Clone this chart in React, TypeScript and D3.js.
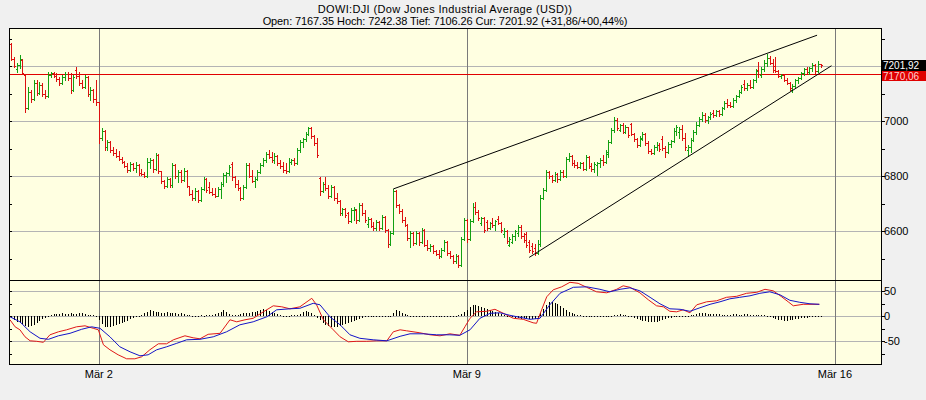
import React from "react";
import * as d3 from "d3";

// ---------- text ----------
const titleLine1 = "DOWI:DJI (Dow Jones Industrial Average (USD))";
const titleLine2 = "Open: 7167.35 Hoch: 7242.38 Tief: 7106.26 Cur: 7201.92 (+31,86/+00,44%)";

// ---------- time axis ----------
const barsPerDay = 26;
const dayTickLabels = ["Mär 2", "Mär 9", "Mär 16"];
const dayTickSlots = [52, 182, 312];

// ---------- price axis ----------
const priceGrid = [6600, 6800, 7000, 7200];
const priceLabels = [6600, 6800, 7000];
const priceMinor = [6500, 6700, 6900, 7100, 7300];
const macdGrid = [-50, 0, 50];
const macdMinor = [-75, -25, 25];
const lastPrice = 7201.92;
const prevClose = 7170.06;
const lastPriceLabel = "7201,92";
const prevCloseLabel = "7170,06";

// ---------- OHLC data, 15-min bars per trading day: [open, high, low, close] ----------
type OHLC = [number, number, number, number];
const feb26: OHLC[] = [
  [7280, 7285, 7222, 7226], [7226, 7232, 7196, 7200], [7190, 7211, 7178, 7204], [7204, 7240, 7193, 7226], [7222, 7226, 7171, 7175],
];
const feb27: OHLC[] = [
  [7167, 7170, 7033, 7047], [7047, 7124, 7044, 7105], [7105, 7113, 7069, 7080], [7080, 7149, 7076, 7138], [7138, 7149, 7095, 7102],
  [7102, 7142, 7098, 7131], [7131, 7138, 7091, 7098], [7098, 7113, 7084, 7091], [7091, 7178, 7087, 7167], [7167, 7180, 7160, 7175],
  [7175, 7178, 7160, 7164], [7164, 7175, 7146, 7153], [7153, 7160, 7131, 7138], [7138, 7167, 7135, 7160], [7160, 7178, 7149, 7171],
  [7171, 7178, 7149, 7156], [7156, 7175, 7102, 7113], [7113, 7167, 7109, 7160], [7185, 7196, 7156, 7164], [7164, 7178, 7131, 7138],
  [7138, 7149, 7120, 7124], [7124, 7167, 7120, 7160], [7160, 7164, 7091, 7098], [7098, 7124, 7076, 7113], [7113, 7116, 7069, 7080],
  [7080, 7149, 7058, 7069],
];
const mar2: OHLC[] = [
  [7069, 7069, 6920, 6938], [6938, 6975, 6931, 6965], [6965, 6967, 6895, 6905], [6905, 6931, 6895, 6924], [6924, 6927, 6887, 6895],
  [6895, 6905, 6876, 6884], [6884, 6898, 6869, 6873], [6873, 6891, 6858, 6862], [6862, 6869, 6847, 6851], [6851, 6855, 6833, 6836],
  [6836, 6847, 6815, 6822], [6822, 6851, 6818, 6844], [6844, 6847, 6822, 6829], [6829, 6851, 6815, 6840], [6840, 6844, 6804, 6811],
  [6811, 6825, 6804, 6807], [6807, 6815, 6796, 6800], [6800, 6865, 6796, 6851], [6851, 6865, 6829, 6858], [6858, 6862, 6815, 6825],
  [6825, 6884, 6822, 6876], [6876, 6880, 6811, 6818], [6818, 6818, 6775, 6782], [6782, 6785, 6756, 6764], [6764, 6796, 6760, 6789],
  [6789, 6792, 6760, 6767],
];
const mar3: OHLC[] = [
  [6767, 6847, 6760, 6840], [6840, 6844, 6793, 6800], [6800, 6822, 6778, 6815], [6815, 6822, 6778, 6785], [6785, 6829, 6782, 6818],
  [6818, 6822, 6760, 6764], [6764, 6764, 6731, 6735], [6735, 6749, 6713, 6720], [6720, 6756, 6713, 6745], [6745, 6749, 6705, 6713],
  [6713, 6760, 6709, 6753], [6753, 6796, 6749, 6789], [6789, 6793, 6742, 6749], [6760, 6778, 6738, 6742], [6742, 6756, 6731, 6735],
  [6735, 6756, 6724, 6729], [6729, 6760, 6727, 6753], [6753, 6778, 6720, 6771], [6771, 6811, 6765, 6804], [6804, 6815, 6778, 6811],
  [6811, 6840, 6804, 6833], [6845, 6851, 6785, 6796], [6796, 6800, 6760, 6771], [6771, 6785, 6749, 6756], [6756, 6760, 6713, 6720],
  [6720, 6767, 6716, 6760],
];
const mar4: OHLC[] = [
  [6760, 6847, 6756, 6840], [6840, 6847, 6796, 6800], [6800, 6822, 6778, 6782], [6782, 6796, 6760, 6789], [6789, 6822, 6785, 6815],
  [6815, 6847, 6811, 6840], [6840, 6865, 6836, 6858], [6858, 6887, 6851, 6880], [6880, 6895, 6865, 6869], [6869, 6887, 6851, 6858],
  [6858, 6884, 6847, 6873], [6873, 6876, 6840, 6847], [6847, 6858, 6829, 6836], [6836, 6851, 6815, 6822], [6822, 6847, 6811, 6818],
  [6818, 6865, 6815, 6851], [6851, 6862, 6844, 6858], [6858, 6865, 6840, 6848], [6848, 6902, 6844, 6895], [6895, 6931, 6887, 6924],
  [6924, 6938, 6905, 6935], [6935, 6960, 6927, 6953], [6953, 6978, 6949, 6975], [6975, 6980, 6938, 6945], [6945, 6950, 6913, 6920],
  [6920, 6938, 6869, 6876],
];
const mar5: OHLC[] = [
  [6793, 6796, 6731, 6745], [6745, 6778, 6742, 6771], [6771, 6796, 6749, 6756], [6756, 6767, 6720, 6727], [6727, 6767, 6724, 6760],
  [6760, 6764, 6713, 6720], [6720, 6738, 6702, 6709], [6709, 6713, 6658, 6665], [6665, 6684, 6658, 6680], [6680, 6684, 6651, 6658],
  [6665, 6670, 6629, 6636], [6636, 6684, 6633, 6676], [6676, 6687, 6640, 6680], [6675, 6680, 6629, 6640], [6640, 6702, 6636, 6695],
  [6695, 6702, 6658, 6665], [6665, 6676, 6633, 6640], [6625, 6651, 6615, 6645], [6645, 6647, 6615, 6620], [6620, 6633, 6604, 6611],
  [6611, 6640, 6604, 6633], [6633, 6636, 6604, 6611], [6611, 6658, 6607, 6651], [6651, 6655, 6596, 6604], [6604, 6607, 6542, 6553],
  [6553, 6600, 6549, 6593],
];
const mar6: OHLC[] = [
  [6593, 6753, 6589, 6745], [6745, 6749, 6687, 6695], [6695, 6698, 6665, 6673], [6673, 6680, 6633, 6640], [6640, 6651, 6618, 6622],
  [6622, 6625, 6567, 6575], [6575, 6600, 6542, 6593], [6593, 6596, 6549, 6556], [6556, 6600, 6553, 6593], [6593, 6596, 6549, 6560],
  [6560, 6611, 6556, 6604], [6604, 6607, 6545, 6549], [6549, 6567, 6531, 6538], [6538, 6553, 6527, 6545], [6545, 6549, 6520, 6527],
  [6527, 6531, 6513, 6516], [6516, 6531, 6502, 6509], [6509, 6538, 6505, 6531], [6531, 6567, 6527, 6560], [6560, 6563, 6513, 6520],
  [6520, 6527, 6502, 6509], [6509, 6513, 6484, 6491], [6491, 6516, 6484, 6509], [6509, 6513, 6469, 6476], [6476, 6578, 6473, 6571],
  [6571, 6647, 6567, 6640],
];
const mar9: OHLC[] = [
  [6640, 6644, 6560, 6571], [6571, 6644, 6567, 6636], [6636, 6702, 6633, 6687], [6687, 6705, 6662, 6669], [6669, 6676, 6640, 6647],
  [6630, 6651, 6622, 6647], [6647, 6651, 6596, 6604], [6633, 6640, 6604, 6611], [6611, 6633, 6607, 6629], [6629, 6647, 6615, 6622],
  [6622, 6640, 6604, 6636], [6644, 6655, 6625, 6629], [6629, 6633, 6596, 6604], [6589, 6611, 6578, 6600], [6600, 6604, 6556, 6563],
  [6549, 6578, 6545, 6571], [6560, 6589, 6556, 6582], [6582, 6604, 6567, 6600], [6593, 6622, 6582, 6615], [6615, 6622, 6575, 6582],
  [6582, 6593, 6560, 6567], [6590, 6596, 6542, 6549], [6560, 6567, 6524, 6531], [6545, 6556, 6520, 6527], [6540, 6553, 6513, 6520],
  [6520, 6567, 6516, 6553],
];
const mar10: OHLC[] = [
  [6553, 6731, 6545, 6720], [6720, 6756, 6716, 6749], [6749, 6822, 6745, 6815], [6815, 6818, 6793, 6800], [6800, 6804, 6778, 6785],
  [6785, 6815, 6782, 6807], [6807, 6811, 6778, 6789], [6789, 6822, 6785, 6815], [6815, 6822, 6796, 6800], [6800, 6869, 6796, 6862],
  [6862, 6884, 6855, 6873], [6873, 6876, 6840, 6847], [6847, 6858, 6833, 6840], [6840, 6851, 6829, 6833], [6833, 6851, 6829, 6847],
  [6847, 6851, 6822, 6825], [6825, 6876, 6822, 6869], [6869, 6873, 6829, 6836], [6836, 6847, 6818, 6825], [6825, 6851, 6815, 6844],
  [6840, 6851, 6804, 6847], [6847, 6865, 6833, 6858], [6858, 6876, 6840, 6851], [6851, 6895, 6848, 6887], [6880, 6931, 6869, 6924],
  [6924, 6975, 6920, 6967],
];
const mar11: OHLC[] = [
  [6967, 7015, 6960, 7004], [7004, 7011, 6967, 6975], [6967, 6989, 6964, 6985], [6985, 6993, 6956, 6960], [6960, 6985, 6956, 6978],
  [6978, 6980, 6942, 6949], [6989, 6993, 6949, 6953], [6953, 6956, 6927, 6935], [6935, 6938, 6905, 6913], [6913, 6945, 6909, 6938],
  [6935, 6960, 6931, 6953], [6953, 6956, 6913, 6920], [6920, 6927, 6884, 6891], [6891, 6898, 6880, 6884], [6884, 6913, 6880, 6905],
  [6905, 6924, 6895, 6913], [6913, 6920, 6891, 6898], [6935, 6945, 6895, 6902], [6902, 6909, 6869, 6887], [6887, 6924, 6884, 6916],
  [6916, 6931, 6905, 6927], [6927, 6975, 6924, 6964], [6964, 6985, 6949, 6978], [6960, 6978, 6938, 6971], [6971, 6985, 6931, 6938],
  [6938, 6956, 6895, 6905],
];
const mar12: OHLC[] = [
  [6895, 6913, 6873, 6905], [6905, 6938, 6887, 6931], [6931, 6967, 6927, 6960], [6960, 6996, 6953, 6985], [6985, 7015, 6982, 7007],
  [7007, 7033, 7000, 7022], [7022, 7029, 6996, 7004], [7004, 7020, 6993, 7015], [7015, 7033, 7007, 7025], [7030, 7040, 7015, 7022],
  [7022, 7040, 7018, 7036], [7036, 7040, 7018, 7025], [7025, 7051, 7022, 7047], [7047, 7073, 7044, 7065], [7065, 7080, 7051, 7058],
  [7058, 7069, 7051, 7055], [7055, 7084, 7051, 7076], [7076, 7095, 7069, 7091], [7091, 7113, 7087, 7105], [7105, 7131, 7102, 7124],
  [7135, 7149, 7113, 7120], [7120, 7138, 7113, 7131], [7131, 7149, 7120, 7124], [7124, 7153, 7120, 7149], [7149, 7189, 7142, 7182],
  [7185, 7215, 7160, 7170.06],
];
const mar13: OHLC[] = [
  [7167.35, 7196, 7160, 7189], [7189, 7222, 7182, 7211], [7211, 7242.38, 7200, 7229], [7229, 7236, 7207, 7211], [7211, 7225, 7178, 7185],
  [7200, 7233, 7178, 7182], [7182, 7185, 7160, 7164], [7164, 7171, 7156, 7167], [7167, 7171, 7145, 7149], [7149, 7156, 7135, 7138],
  [7138, 7142, 7113, 7120], [7113, 7135, 7106.26, 7127], [7127, 7153, 7124, 7149], [7149, 7160, 7138, 7156], [7156, 7178, 7153, 7175],
  [7175, 7193, 7167, 7189], [7189, 7196, 7175, 7178], [7178, 7196, 7171, 7193], [7193, 7211, 7182, 7204], [7204, 7207, 7175, 7182],
  [7182, 7218, 7178, 7206], [7206, 7207, 7198, 7201.92],
];
const dayBars = [feb26, feb27, mar2, mar3, mar4, mar5, mar6, mar9, mar10, mar11, mar12, mar13];
const dayFirstSlot = [21, 0, 0, 0, 0, 0, 0, 0, 0, 0, 0, 0];

// ---------- MACD histogram per bar ----------
const histFeb26 = [-4, -8, -12, -14, -16];
const histFeb27 = [-19, -21, -20, -17, -14, -10, -6, -3, 1, 3, 4, 5, 5, 6, 5, 5, 6, 5, 4, 6, 7, 5, 3, 2, 2, 1];
const histMar2 = [-8, -16, -21, -22, -21, -20, -18, -16, -14, -11, -9, -6, -3, -1, 0, 3, 6, 9, 12, 10, 8, 9, 7, 6, 8, 6];
const histMar3 = [7, 6, 5, 6, 4, 3, 2, 1, 1, 1, 2, 1, 2, 2, 3, 4, 6, 9, 12, 8, 5, 3, 2, 3, 4, 6];
const histMar4 = [6, 7, 8, 9, 10, 12, 14, 12, 10, 8, 6, 4, 2, 1, 1, 1, 2, 2, 3, 5, 8, 10, 9, 6, 2, -3];
const histMar5 = [-8, -13, -17, -20, -22, -22, -21, -20, -18, -16, -14, -12, -10, -8, -6, -4, -2, -1, 0, 0, 1, 1, 0, 0, -1, 0];
const histMar6 = [6, 12, 10, 7, 4, 2, 1, 0, 0, -1, 0, 1, 0, -1, 0, 0, 1, 0, -1, 0, 0, 1, 0, 2, 4, 8];
const histMar9 = [12, 18, 22, 23, 21, 19, 17, 15, 13, 11, 9, 7, 5, 3, 1, -1, -2, -3, -4, -5, -4, -5, -6, -6, -5, -4];
const histMar10 = [6, 14, 22, 28, 29, 27, 24, 20, 16, 12, 9, 7, 5, 3, 2, 1, 0, -1, -1, -1, 0, 1, 1, 1, 0, 1];
const histMar11 = [2, 3, 4, 3, 2, 1, -1, -3, -5, -7, -9, -10, -11, -12, -12, -11, -10, -8, -6, -4, -3, -2, -1, 0, 0, 1];
const histMar12 = [1, 2, 3, 5, 6, 7, 6, 5, 5, 4, 4, 4, 3, 3, 3, 3, 4, 4, 3, 3, 4, 4, 3, 3, 2, 2];
const histMar13 = [3, 2, 1, -1, -3, -5, -7, -8, -9, -9, -8, -7, -6, -5, -4, -3, -3, -2, -2, -1, -1, -1];
const dayHist = [histFeb26, histFeb27, histMar2, histMar3, histMar4, histMar5, histMar6, histMar9, histMar10, histMar11, histMar12, histMar13];

// ---------- MACD (red) and signal (blue) lines: [bar slot, value] ----------
const macdLine: [number, number][] = [
  [20.6, -7], [22.4, -21], [24.1, -27], [25.9, -41], [27.7, -49], [30, -50], [32.4, -52], [34.7, -37], [37.7, -31], [40.6, -27],
  [44.1, -21], [47.1, -19], [50, -24], [51.8, -27], [53.6, -57], [55.9, -67], [58.8, -77], [61.8, -85], [64.7, -85], [67.1, -81],
  [70, -67], [73, -55], [75.9, -55], [78.3, -47], [82.4, -39], [85.3, -43], [87.7, -45], [90.6, -36], [94.8, -34], [98.3, -7],
  [100.7, -11], [103.6, -7], [106.5, -4], [110.1, 9], [113.6, 21], [116.6, 19], [119.5, 15], [123, 19], [127.2, 36], [128.9, 23],
  [131.3, -7], [134.8, -27], [137.2, -41], [140.1, -51], [143.1, -50], [146.6, -50], [150.1, -49], [153.7, -49], [156, -31], [158.4, -27],
  [160.7, -29], [165.4, -33], [169, -37], [172.5, -39], [176, -35], [179.5, -38], [181.3, -21], [183.1, -4], [185.4, 9], [189, 10],
  [191.9, 14], [194.9, 6], [198.4, -4], [201.9, -6], [205.4, -13], [206.6, -14], [208.4, 13], [210.2, 39], [212.5, 53], [215.5, 59],
  [218.4, 68], [221.3, 66], [224.3, 58], [227.8, 49], [231.4, 47], [234.9, 54], [237.2, 61], [239.6, 58], [243.1, 47], [246.1, 33],
  [249, 21], [251.4, 19], [253.7, 10], [256.1, 9], [258.4, 13], [260.8, 7], [263.2, 23], [266.7, 29], [270.2, 31], [273.7, 38],
  [277.3, 40], [280.8, 46], [284.4, 48], [287.3, 54], [290.2, 51], [293.2, 39], [295.5, 29], [297.3, 21], [300.8, 24], [306.5, 24],
];
const signalLine: [number, number][] = [
  [20.6, -1], [24.1, -11], [27.7, -31], [31.2, -44], [34.2, -46], [37.7, -39], [41.8, -34], [45.9, -26], [49.4, -21], [52.4, -24],
  [55.9, -41], [59.4, -61], [63, -71], [66.5, -79], [69.4, -77], [72.4, -67], [75.9, -61], [79.5, -54], [83, -47], [87.7, -46],
  [92.4, -41], [97.1, -31], [101.8, -17], [106.5, -11], [111.3, -1], [114.8, 13], [119.5, 15], [123, 16], [127.7, 26], [130.1, 23],
  [133.6, -1], [137.2, -17], [140.7, -37], [144.2, -44], [148.9, -47], [153.7, -49], [158.4, -40], [161.9, -35], [166.6, -35], [171.3, -37],
  [176, -37], [179.5, -38], [183.1, -27], [186.6, -4], [190.2, 6], [193.7, 7], [197.2, 2], [200.7, -2], [204.3, -6], [207.8, -4],
  [211.3, 23], [214.9, 46], [219.6, 58], [224.3, 59], [229, 54], [232.5, 49], [236.1, 54], [239.6, 57], [243.1, 51], [246.7, 38],
  [250.2, 25], [253.7, 15], [257.3, 14], [260.8, 10], [264.3, 17], [267.9, 24], [271.4, 29], [274.9, 35], [278.4, 38], [282, 41],
  [285.5, 46], [289, 49], [292.6, 43], [296.1, 32], [299.6, 28], [303.2, 25], [306.5, 24],
];

// ---------- trend lines: [bar slot, price] ----------
const upperTrend: [number, number][] = [[156, 6753], [305.7, 7312]];
const lowerTrend: [number, number][] = [[204, 6504], [310.8, 7201]];

// ---------- layout ----------
const W = 926, H = 400;
const PL = 9, PR = 881, PT = 28, PMID = 280, PB = 364;
const FONT = "'Liberation Sans', Arial, sans-serif";
const GREEN = "#12a012";
const RED = "#dd1010";

export default function App() {
  const slotPerPx = 73.6 / barsPerDay;
  const x = d3.scaleLinear().domain([(PL + 48.3) / slotPerPx, (PR + 48.3) / slotPerPx]).range([PL, PR]);
  const yP = d3.scaleLinear().domain([6421.9, 7338.2]).range([PMID, PT]);
  const yM = d3.scaleLinear().domain([-95.4, 72.6]).range([PB, PMID]);

  const bars: { g: number; d: OHLC }[] = [];
  const hist: { g: number; v: number }[] = [];
  dayBars.forEach((arr, di) => arr.forEach((d, k) => bars.push({ g: di * barsPerDay + dayFirstSlot[di] + k, d })));
  dayHist.forEach((arr, di) => arr.forEach((v, k) => hist.push({ g: di * barsPerDay + dayFirstSlot[di] + k, v })));

  const macdPath = d3.line<[number, number]>().x((d) => x(d[0])).y((d) => yM(d[1]))(macdLine) || "";
  const sigPath = d3.line<[number, number]>().x((d) => x(d[0])).y((d) => yM(d[1]))(signalLine) || "";
  const trendPath = d3.line<[number, number]>().x((d) => x(d[0])).y((d) => yP(d[1]));

  const hy = (v: number) => Math.round(v) + 0.5;
  const y0 = Math.round(yM(0));
  const yLast = Math.round(yP(lastPrice));

  return (
    <svg width={W} height={H} style={{ position: "absolute", left: 0, top: 0, background: "#f0f0f0" }} fontFamily={FONT}>
      <defs>
        <clipPath id="clipTop"><rect x={PL} y={PT} width={PR - PL} height={PMID - PT} /></clipPath>
      </defs>
      <rect x={0} y={0} width={W} height={H} fill="#f0f0f0" />
      <rect x={PL} y={PT} width={PR - PL} height={PB - PT} fill="#ffffe1" />

      {/* horizontal grid */}
      {priceGrid.map((v) => (
        <line key={"pg" + v} x1={PL} x2={PR} y1={hy(yP(v))} y2={hy(yP(v))} stroke="#b4b4b4" />
      ))}
      {macdGrid.map((v) => (
        <line key={"mg" + v} x1={PL} x2={PR} y1={hy(yM(v))} y2={hy(yM(v))} stroke="#b4b4b4" />
      ))}
      {/* vertical day lines */}
      {dayTickSlots.map((g) => (
        <line key={"vg" + g} x1={hy(x(g))} x2={hy(x(g))} y1={PT} y2={PB} stroke="#7a7a7a" />
      ))}

      {/* previous close line */}
      <line x1={PL} x2={PR + 1} y1={hy(yP(prevClose))} y2={hy(yP(prevClose))} stroke="#e00000" />

      {/* OHLC bars */}
      <g shapeRendering="crispEdges">
        {bars.map(({ g, d }) => {
          const [o, h, l, c] = d;
          const xi = Math.round(x(g));
          const top = Math.round(yP(h));
          const bot = Math.round(yP(l));
          const col = c >= o ? GREEN : RED;
          return (
            <g key={"b" + g} fill={col}>
              <rect x={xi} y={top} width={1} height={Math.max(1, bot - top + 1)} />
              <rect x={xi - 1} y={Math.round(yP(o))} width={1} height={1} />
              <rect x={xi + 1} y={Math.round(yP(c))} width={1} height={1} />
            </g>
          );
        })}
      </g>

      {/* trend lines */}
      <g clipPath="url(#clipTop)">
        <path d={trendPath(upperTrend) || ""} stroke="#000" strokeWidth={1} fill="none" />
        <path d={trendPath(lowerTrend) || ""} stroke="#000" strokeWidth={1} fill="none" />
      </g>

      {/* MACD histogram */}
      <g shapeRendering="crispEdges" fill="#000">
        {hist.map(({ g, v }) => {
          const xi = Math.round(x(g));
          const yy = Math.round(yM(v));
          const top = Math.min(yy, y0);
          const h = Math.max(1, Math.abs(yy - y0));
          return <rect key={"h" + g} x={xi} y={top} width={1} height={h} />;
        })}
      </g>
      <path d={macdPath} stroke="#e01818" strokeWidth={1} fill="none" />
      <path d={sigPath} stroke="#1414c8" strokeWidth={1} fill="none" />

      {/* frame */}
      <g shapeRendering="crispEdges" stroke="#000" fill="none">
        <rect x={PL + 0.5} y={PT + 0.5} width={PR - PL} height={PB - PT} />
        <line x1={PL} x2={PR} y1={PMID + 0.5} y2={PMID + 0.5} />
      </g>

      {/* axis ticks */}
      <g shapeRendering="crispEdges" stroke="#000">
        {[...priceGrid, ...priceMinor].map((v) => (
          <g key={"pt" + v}>
            <line x1={PR} x2={PR + 4} y1={hy(yP(v))} y2={hy(yP(v))} />
            <line x1={PL} x2={PL + 3} y1={hy(yP(v))} y2={hy(yP(v))} />
          </g>
        ))}
        {[...macdGrid, ...macdMinor].map((v) => (
          <g key={"mt" + v}>
            <line x1={PR} x2={PR + 4} y1={hy(yM(v))} y2={hy(yM(v))} />
            <line x1={PL} x2={PL + 3} y1={hy(yM(v))} y2={hy(yM(v))} />
          </g>
        ))}
      </g>
      {priceLabels.map((v) => (
        <text key={"pl" + v} x={PR + 3} y={yP(v) + 4} fontSize={11} fill="#000">{v}</text>
      ))}
      {macdGrid.map((v) => (
        <text key={"ml" + v} x={PR + 3} y={yM(v) + 4} fontSize={11} fill="#000">{v}</text>
      ))}

      {/* price boxes */}
      <rect x={PR + 1} y={yLast - 5} width={W - PR - 1} height={11} fill="#000" />
      <text x={PR + 2} y={yLast + 4} fontSize={10} fill="#fff">{lastPriceLabel}</text>
      <rect x={PR + 1} y={yLast + 6} width={W - PR - 1} height={10} fill="#e00000" />
      <text x={PR + 2} y={yLast + 15} fontSize={10} fill="#ffd0d0">{prevCloseLabel}</text>

      {/* bottom date labels */}
      {dayTickSlots.map((g, i) => (
        <text key={"dl" + g} x={x(g)} y={378} fontSize={11} textAnchor="middle" fill="#000">{dayTickLabels[i]}</text>
      ))}

      {/* title */}
      <text x={(PL + PR) / 2} y={13} fontSize={11} textAnchor="middle" letterSpacing={0.35} fill="#000">{titleLine1}</text>
      <text x={(PL + PR) / 2} y={25} fontSize={11} textAnchor="middle" letterSpacing={-0.1} fill="#000">{titleLine2}</text>
    </svg>
  );
}
